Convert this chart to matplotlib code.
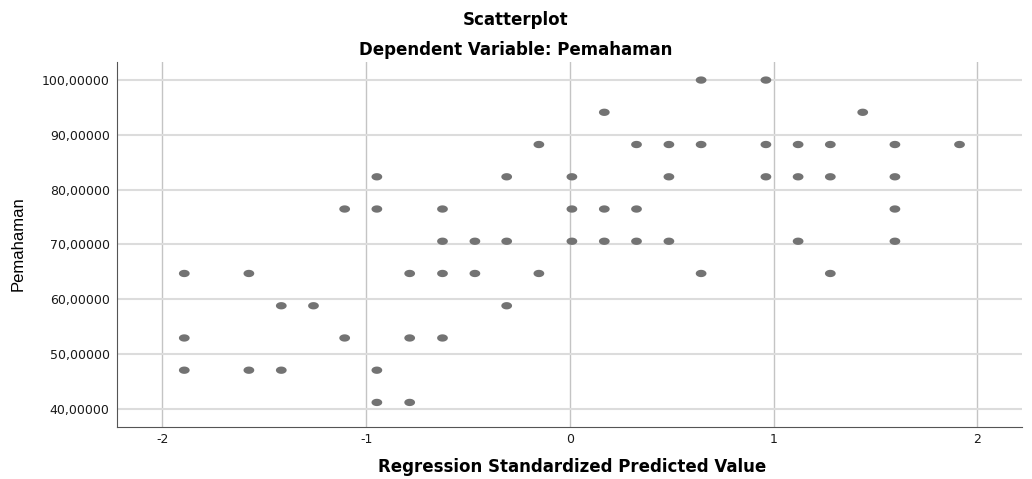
import numpy as np
import matplotlib
matplotlib.use("Agg")
import matplotlib.pyplot as plt
from matplotlib.path import Path

plt.rcParams['font.family'] = ['DejaVu Sans']

# predicted value (standardized) per observed Pemahaman level
rows = {
    100.00: [0.644, 0.962],
    94.12: [0.169, 1.437],
    88.24: [-0.152, 0.327, 0.486, 0.644, 0.962, 1.120, 1.278, 1.595, 1.912],
    82.35: [-0.947, -0.310, 0.010, 0.486, 0.962, 1.120, 1.278, 1.595],
    76.47: [-1.105, -0.947, -0.625, 0.010, 0.169, 0.327, 1.595],
    70.59: [-0.625, -0.466, -0.310, 0.010, 0.169, 0.327, 0.486, 1.120, 1.595],
    64.71: [-1.892, -1.575, -0.786, -0.625, -0.466, -0.152, 0.644, 1.278],
    58.82: [-1.416, -1.258, -0.310],
    52.94: [-1.892, -1.105, -0.786, -0.625],
    47.06: [-1.892, -1.575, -1.416, -0.947],
    41.18: [-0.947, -0.786],
}
x_ticks = [-2, -1, 0, 1, 2]
y_ticks = [40, 50, 60, 70, 80, 90, 100]

pred = []
obs = []
for yv, xs in rows.items():
    for xv in xs:
        pred.append(xv)
        obs.append(yv)
pred = np.array(pred)
obs = np.array(obs)

# flattened dot like SPSS
t = np.linspace(0, 2 * np.pi, 40)
ellipse = Path(np.column_stack([np.cos(t), 0.68 * np.sin(t)]), closed=True)

fig = plt.figure(figsize=(10.32, 4.79), dpi=100)
ax = fig.add_axes([0.113, 0.1086, 0.877, 0.762])

ax.scatter(pred, obs, marker=ellipse, s=60, c='#737373', edgecolors='none', zorder=3)

ax.set_xlim(-2.224, 2.217)
ax.set_ylim(36.7, 103.3)
ax.set_xticks(x_ticks)
ax.set_xticklabels([str(v) for v in x_ticks])
ax.set_yticks(y_ticks)
ax.set_yticklabels([f"{v},00000" for v in y_ticks])
ax.tick_params(length=0, labelsize=9, colors='#1a1a1a', pad=5)
ax.tick_params(axis='x', pad=4)

for v in x_ticks:
    ax.axvline(v, color='#c4c4c4', lw=1.0, zorder=1)
for v in y_ticks:
    ax.axhline(v, color='#dcdcdc', lw=1.5, zorder=1)

for s in ['top', 'right']:
    ax.spines[s].set_visible(False)
ax.spines['left'].set_color('#555555')
ax.spines['bottom'].set_color('#555555')

fig.text(572 / 1032, 1 - 467 / 479, "Regression Standardized Predicted Value",
         ha='center', va='center', fontsize=12, fontweight='bold')
fig.text(18 / 1032, 1 - 244 / 479, "Pemahaman", rotation=90, ha='center', va='center',
         fontsize=12, family=['Liberation Sans Narrow', 'Liberation Sans'])

fig.text(516 / 1032, 1 - 20 / 479, "Scatterplot", ha='center', va='center',
         fontsize=12, fontweight='bold')
fig.text(516 / 1032, 1 - 50 / 479, "Dependent Variable: Pemahaman", ha='center',
         va='center', fontsize=12, fontweight='bold')

fig.savefig("out.png", dpi=100)
